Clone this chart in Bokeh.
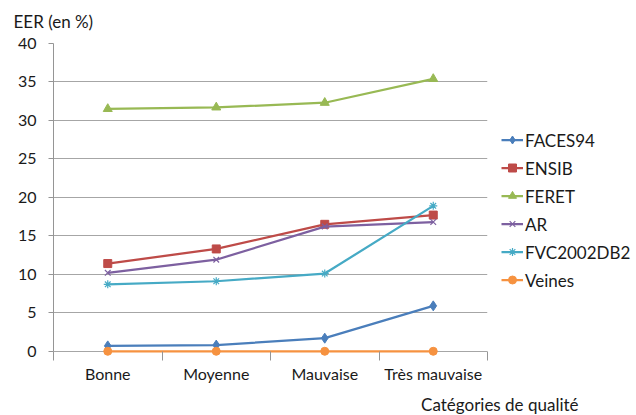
from bokeh.plotting import figure
from bokeh.models import Range1d, FixedTicker, Legend, LegendItem, Title
from bokeh.embed import file_html
from bokeh.resources import INLINE

categories = ["Bonne", "Moyenne", "Mauvaise", "Très mauvaise"]
faces94 = [0.7, 0.8, 1.7, 5.9]
ensib = [11.4, 13.3, 16.5, 17.7]
feret = [31.5, 31.7, 32.3, 35.4]
ar = [10.2, 11.9, 16.2, 16.8]
fvc2002db2 = [8.7, 9.1, 10.1, 18.9]
veines = [0.0, 0.0, 0.0, 0.0]
y_ticks = [0, 5, 10, 15, 20, 25, 30, 35, 40]

FONT = "Lato"
TXT = "#1a1a1a"
AXIS_GRAY = "#959595"
Y_MIN = -1.2  # small pad below zero so markers on the zero line are not clipped

xs = [i + 0.5 for i in range(len(categories))]

p = figure(frame_width=434, frame_height=317, output_backend="svg", toolbar_location=None,
           x_range=Range1d(0, len(categories)), y_range=Range1d(Y_MIN, 40))
p.min_border_left = 53
p.min_border_right = 140
p.min_border_top = 0
p.min_border_bottom = 30
p.outline_line_color = None
p.background_fill_color = "white"
p.border_fill_color = "white"

# x axis: line hidden (zero line drawn by the grid), boundary ticks reach up to y = 0
xa = p.xaxis[0]
xa.ticker = FixedTicker(ticks=xs, minor_ticks=list(range(len(categories) + 1)))
xa.major_label_overrides = {x: c for x, c in zip(xs, categories)}
xa.major_tick_line_color = None
xa.major_tick_out = 0
xa.major_tick_in = 0
xa.minor_tick_line_color = AXIS_GRAY
xa.minor_tick_out = 0
xa.minor_tick_in = 9
xa.axis_line_color = None
xa.major_label_standoff = 3
xa.major_label_text_font = FONT
xa.major_label_text_font_size = "16px"
xa.major_label_text_color = TXT

# y axis
ya = p.yaxis[0]
ya.bounds = (0, 40)
ya.ticker = FixedTicker(ticks=y_ticks)
ya.major_tick_line_color = AXIS_GRAY
ya.major_tick_out = 5
ya.major_tick_in = 0
ya.minor_tick_line_color = None
ya.axis_line_color = AXIS_GRAY
ya.major_label_standoff = 12
ya.major_label_text_font = FONT
ya.major_label_text_font_size = "16px"
ya.major_label_text_color = TXT

p.xgrid.grid_line_color = None
p.ygrid.grid_line_color = "#a6a6a6"
p.ygrid.ticker = FixedTicker(ticks=y_ticks)

series = [
    ("FACES94", faces94, "#4A7EBB", "diamond", 10),
    ("ENSIB", ensib, "#BE4B48", "square", 8),
    ("FERET", feret, "#98B954", "triangle", 9),
    ("AR", ar, "#7D60A0", "x", 8),
    ("FVC2002DB2", fvc2002db2, "#46AAC5", "asterisk", 8),
    ("Veines", veines, "#F69240", "circle", 8),
]

items = []
for name, vals, color, marker, size in series:
    ln = p.line(xs, vals, line_color=color, line_width=2.25)
    if marker in ("x", "asterisk"):
        sc = p.scatter(xs, vals, marker=marker, size=size, line_color=color,
                       fill_color=None, line_width=1.2)
    else:
        sc = p.scatter(xs, vals, marker=marker, size=size, line_color=color,
                       fill_color=color)
    items.append(LegendItem(label=name, renderers=[ln, sc]))

legend = Legend(items=items, location="center_left")
legend.border_line_color = None
legend.background_fill_alpha = 0
legend.padding = 0
legend.margin = 14
legend.spacing = 7
legend.label_height = 20
legend.glyph_height = 20
legend.glyph_width = 22
legend.label_standoff = 2
legend.label_text_font = FONT
legend.label_text_font_size = "17px"
legend.label_text_color = TXT
legend.label_text_baseline = "middle"
legend.title = " "
legend.title_text_font = FONT
legend.title_text_font_size = "10px"
legend.title_standoff = 4
p.add_layout(legend, "right")

p.title = Title(text="EER (en %)", align="left", offset=-40, vertical_align="top",
                text_font=FONT, text_font_size="17px", text_color=TXT,
                text_font_style="normal", standoff=20)

xt = Title(text="Catégories de qualité", align="right", offset=-91,
           text_font=FONT, text_font_size="17px", text_color=TXT,
           text_font_style="normal", standoff=12)
p.add_layout(xt, "below")

open("out.html", "w").write(file_html(p, INLINE))
